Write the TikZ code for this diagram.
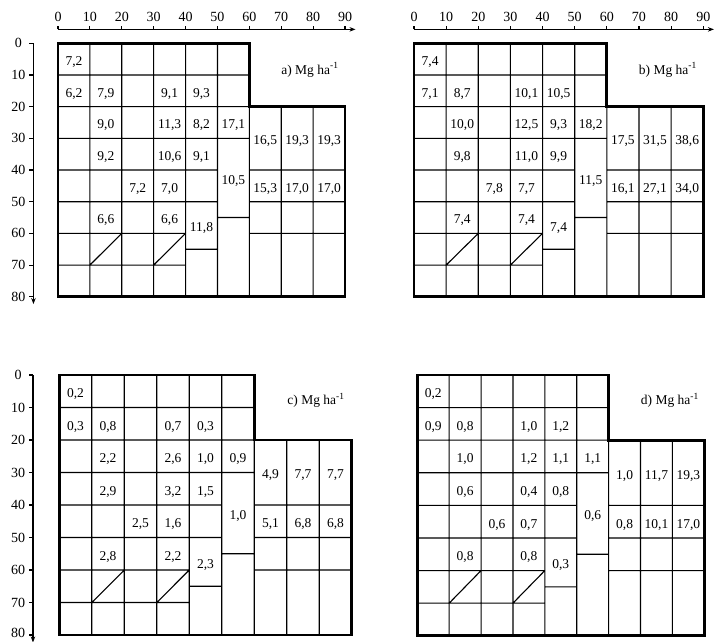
\documentclass[tikz,border=0pt]{standalone}
\usepackage{fontspec}
\setmainfont{Liberation Serif}
\usetikzlibrary{arrows.meta}
\tikzset{
  gline/.style={line width=1.1pt},
  border/.style={line width=2.8pt, line join=miter},
  val/.style={font=\fontsize{13.5}{13.5}\selectfont, inner sep=0pt, yshift=-3pt},
  axlab/.style={font=\fontsize{14}{14}\selectfont, inner sep=0pt},
  plab/.style={font=\fontsize{13.5}{13.5}\selectfont, inner sep=0pt},
  axisline/.style={line width=1.1pt, -{Stealth[length=6pt,width=4.5pt]}},
  tickmark/.style={line width=1.1pt}
}
\newcommand\plotgrid{%
  \draw[gline] (10,0)--(10,80) (20,0)--(20,80) (30,0)--(30,80) (40,0)--(40,80)
    (50,0)--(50,80) (60,20)--(60,80) (70,20)--(70,80) (80,20)--(80,80)
    (0,10)--(60,10) (0,20)--(60,20) (0,30)--(60,30)
    (0,40)--(50,40) (60,40)--(90,40) (0,50)--(50,50) (60,50)--(90,50)
    (50,55)--(60,55) (0,60)--(40,60) (60,60)--(90,60) (40,65)--(50,65)
    (0,70)--(40,70) (10,70)--(20,60) (30,70)--(40,60);
  \draw[border] (0,0)--(60,0)--(60,20)--(90,20)--(90,80)--(0,80)--cycle;
}
\newcommand\cellvalues[2]{%
  \foreach \x/\y/\t [count=\i] in {#2} {\node[val] (#1v\i) at (\x,\y) {\t};}
}
\newcommand\topaxis[1]{%
  \coordinate (#1ts) at (0,-4.4);
  \coordinate (#1te) at (93.3,-4.4);
  \draw[axisline] (#1ts) -- (#1te);
  \foreach \v in {0,10,...,90} {
    \coordinate (#1tk\v) at (\v,-4.4);
    \draw[tickmark] (#1tk\v) -- ++(0,-1);
    \node[axlab] (#1tl\v) at (\v,-8.4) {\v};
  }
}
\newcommand\leftaxis[4]{% prefix, axis x, label x, shift of last label
  \coordinate (#1ls) at (#2,0);
  \coordinate (#1le) at (#2,82.3);
  \draw[axisline] (#1ls) -- (#1le);
  \foreach \v in {0,10,...,80} {
    \coordinate (#1lk\v) at (#2,\v);
    \draw[tickmark] (#1lk\v) -- ++(-1.3,0);
  }
  \foreach \v in {0,10,...,70} {
    \node[axlab] (#1ll\v) at (#3,\v) {\v};
  }
  \node[axlab, yshift=#4] (#1ll80) at (#3,80) {80};
}
\begin{document}
\begin{tikzpicture}[x=1pt,y=-1pt]
\useasboundingbox (0,0) rectangle (715,641);
% ---------- panel a
\begin{scope}[shift={(58,43.3)}, xscale=3.189, yscale=3.168]
  \plotgrid
  \topaxis{a}
  \leftaxis{a}{-7.7}{-12.4}{0pt}
  \cellvalues{a}{5/5/{7,2}, 5/15/{6,2}, 15/15/{7,9}, 35/15/{9,1}, 45/15/{9,3},
    15/25/{9,0}, 35/25/{11,3}, 45/25/{8,2}, 55/25/{17,1},
    15/35/{9,2}, 35/35/{10,6}, 45/35/{9,1},
    25/45/{7,2}, 35/45/{7,0}, 55/42.5/{10,5},
    15/55/{6,6}, 35/55/{6,6}, 45/57.5/{11,8},
    65/30/{16,5}, 75/30/{19,3}, 85/30/{19,3},
    65/45/{15,3}, 75/45/{17,0}, 85/45/{17,0}}
  \node[plab] (alab) at (79,8.4) {a) Mg ha\textsuperscript{-1}};
\end{scope}
% ---------- panel b
\begin{scope}[shift={(414,43.3)}, xscale=3.214, yscale=3.168]
  \plotgrid
  \topaxis{b}
  \cellvalues{b}{5/5/{7,4}, 5/15/{7,1}, 15/15/{8,7}, 35/15/{10,1}, 45/15/{10,5},
    15/25/{10,0}, 35/25/{12,5}, 45/25/{9,3}, 55/25/{18,2},
    15/35/{9,8}, 35/35/{11,0}, 45/35/{9,9},
    25/45/{7,8}, 35/45/{7,7}, 55/42.5/{11,5},
    15/55/{7,4}, 35/55/{7,4}, 45/57.5/{7,4},
    65/30/{17,5}, 75/30/{31,5}, 85/30/{38,6},
    65/45/{16,1}, 75/45/{27,1}, 85/45/{34,0}}
  \node[plab] (blab) at (79,8.4) {b) Mg ha\textsuperscript{-1}};
\end{scope}
% ---------- panel c
\begin{scope}[shift={(59.3,375)}, xscale=3.249, yscale=3.25]
  \plotgrid
  \leftaxis{c}{-8.1}{-12.7}{2.5pt}
  \cellvalues{c}{5/5/{0,2}, 5/15/{0,3}, 15/15/{0,8}, 35/15/{0,7}, 45/15/{0,3},
    15/25/{2,2}, 35/25/{2,6}, 45/25/{1,0}, 55/25/{0,9},
    15/35/{2,9}, 35/35/{3,2}, 45/35/{1,5},
    25/45/{2,5}, 35/45/{1,6}, 55/42.5/{1,0},
    15/55/{2,8}, 35/55/{2,2}, 45/57.5/{2,3},
    65/30/{4,9}, 75/30/{7,7}, 85/30/{7,7},
    65/45/{5,1}, 75/45/{6,8}, 85/45/{6,8}}
  \node[plab] (clab) at (79,7.7) {c) Mg ha\textsuperscript{-1}};
\end{scope}
% ---------- panel d
\begin{scope}[shift={(417.3,375)}, xscale=3.189, yscale=3.259]
  \plotgrid
  \cellvalues{d}{5/5/{0,2}, 5/15/{0,9}, 15/15/{0,8}, 35/15/{1,0}, 45/15/{1,2},
    15/25/{1,0}, 35/25/{1,2}, 45/25/{1,1}, 55/25/{1,1},
    15/35/{0,6}, 35/35/{0,4}, 45/35/{0,8},
    25/45/{0,6}, 35/45/{0,7}, 55/42.5/{0,6},
    15/55/{0,8}, 35/55/{0,8}, 45/57.5/{0,3},
    65/30/{1,0}, 75/30/{11,7}, 85/30/{19,3},
    65/45/{0,8}, 75/45/{10,1}, 85/45/{17,0}}
  \node[plab] (dlab) at (79.2,7.7) {d) Mg ha\textsuperscript{-1}};
\end{scope}
\end{tikzpicture}
\end{document}
